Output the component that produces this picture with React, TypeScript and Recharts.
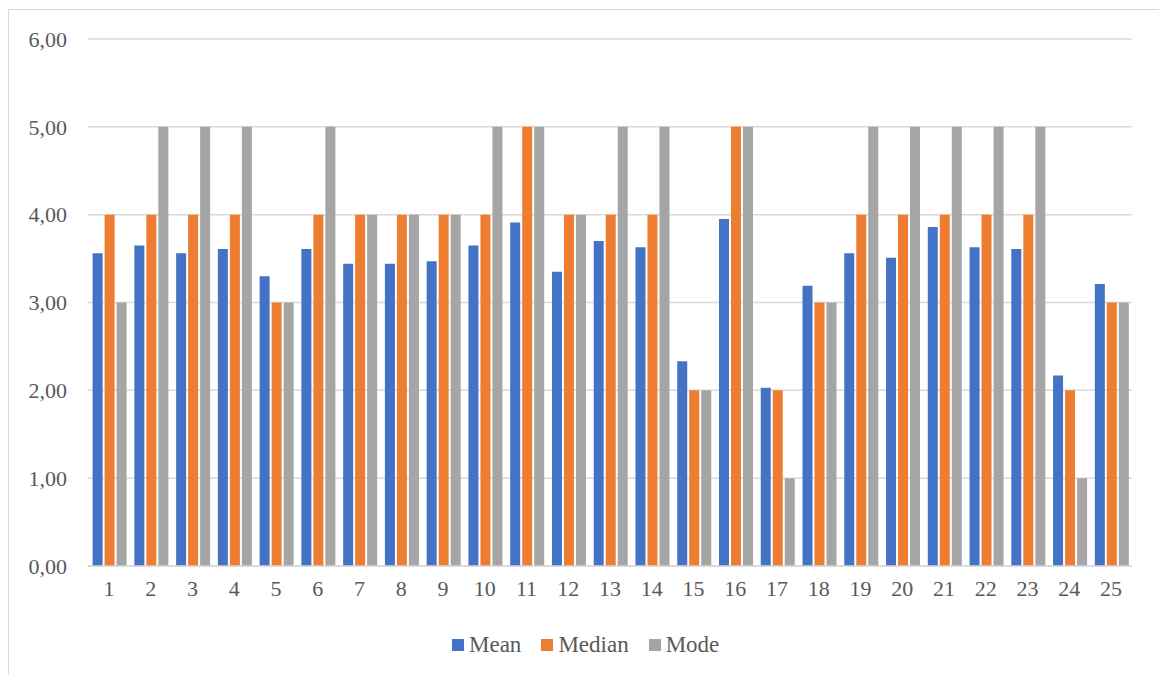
import React from "react";
import { BarChart, Bar, XAxis, YAxis, CartesianGrid } from "recharts";

const categories = ["1","2","3","4","5","6","7","8","9","10","11","12","13","14","15","16","17","18","19","20","21","22","23","24","25"];
const meanValues = [3.56,3.65,3.56,3.61,3.30,3.61,3.44,3.44,3.47,3.65,3.91,3.35,3.70,3.63,2.33,3.95,2.03,3.19,3.56,3.51,3.86,3.63,3.61,2.17,3.21];
const medianValues = [4,4,4,4,3,4,4,4,4,4,5,4,4,4,2,5,2,3,4,4,4,4,4,2,3];
const modeValues = [3,5,5,5,3,5,4,4,4,5,5,4,5,5,2,5,1,3,5,5,5,5,5,1,3];
const yTicks = [0,1,2,3,4,5,6];
const seriesNames = ["Mean","Median","Mode"];
const seriesColors = ["#4472C4","#ED7D31","#A5A5A5"];

const data = categories.map((c, i) => ({
  name: c,
  Mean: meanValues[i],
  Median: medianValues[i],
  Mode: modeValues[i],
}));

const FONT = "Liberation Serif, Tinos, Times New Roman, DejaVu Serif, Noto Serif, serif";
const TEXT = "#595959";

export default function App() {
  return (
    <div style={{ position: "absolute", left: 0, top: 0, width: 1159, height: 675, overflow: "hidden", background: "#fff", fontFamily: FONT }}>
      <div style={{ position: "absolute", left: 8, top: 9, width: 1200, height: 700, border: "1.5px solid #D9D9D9", boxSizing: "border-box" }} />
      <div style={{ position: "absolute", left: 0, top: 0 }}>
        <BarChart
          width={1159}
          height={675}
          data={data}
          margin={{ top: 39, right: 27, bottom: 79, left: 0 }}
          barCategoryGap="11%"
          barGap={2}
          style={{ fontFamily: FONT }}
        >
          <CartesianGrid vertical={false} stroke="#D9D9D9" strokeWidth={1.5} />
          <XAxis
            dataKey="name"
            height={30}
            tickLine={false}
            tickSize={0}
            tickMargin={14}
            axisLine={{ stroke: "#D9D9D9", strokeWidth: 1.5 }}
            tick={{ fill: TEXT, fontSize: 22, fontFamily: FONT }}
            interval={0}
          />
          <YAxis
            width={88}
            domain={[0, 6]}
            ticks={yTicks}
            axisLine={false}
            tickLine={false}
            tickSize={0}
            tickMargin={21}
            tick={{ fill: TEXT, fontSize: 22, fontFamily: FONT }}
            tickFormatter={(v: number) => v.toFixed(2).replace(".", ",")}
          />
          {seriesNames.map((s, i) => (
            <Bar key={s} dataKey={s} fill={seriesColors[i]} isAnimationActive={false} />
          ))}
        </BarChart>
      </div>
      <div style={{ position: "absolute", left: 452, top: 630, display: "flex", alignItems: "center", height: 30, fontSize: 23, color: TEXT, fontFamily: FONT, whiteSpace: "nowrap" }}>
        {seriesNames.map((s, i) => (
          <div key={s} style={{ display: "flex", alignItems: "center", marginRight: 20 }}>
            <div style={{ width: 12, height: 12, background: seriesColors[i], marginRight: 5 }} />
            <span>{s}</span>
          </div>
        ))}
      </div>
    </div>
  );
}
